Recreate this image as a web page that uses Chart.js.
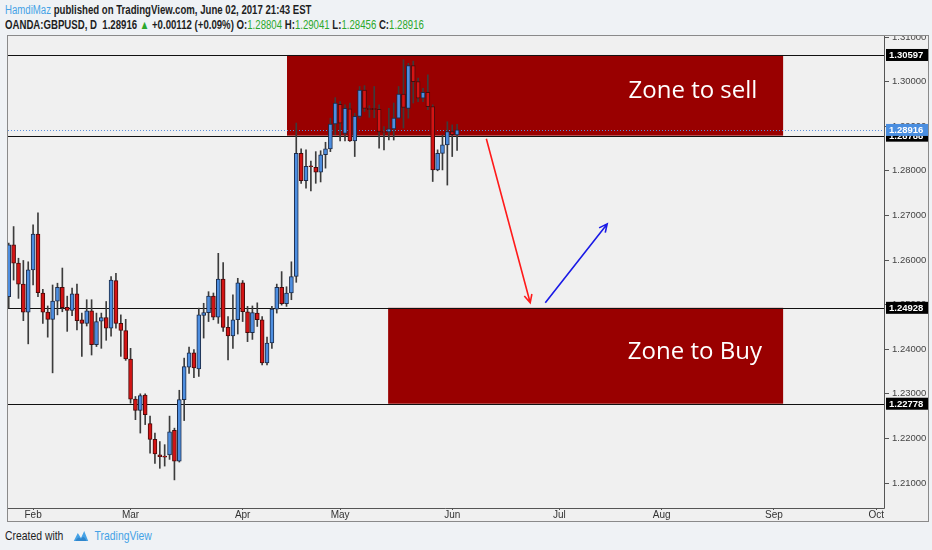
<!DOCTYPE html>
<html>
<head>
<meta charset="utf-8">
<script src="https://cdn.jsdelivr.net/npm/chart.js@4.4.0/dist/chart.umd.min.js"></script>
<style>
  html, body { margin: 0; padding: 0; }
  body {
    width: 932px; height: 550px; position: relative; overflow: hidden;
    background: #eff2f5;
    font-family: "Liberation Sans", sans-serif;
    color: #1e1e1e;
  }
  .hdr { position: absolute; left: 5px; font-size: 12.5px; white-space: nowrap; font-weight: bold;
         transform: scaleX(0.77); transform-origin: 0 0; }
  #hdr1 { top: 3px; }
  #hdr2 { top: 18px; }
  .user { color: #45a2e6; font-weight: normal; }
  .g { color: #2ca82c; font-weight: normal; }
  #wrap { position: absolute; left: 7px; top: 35px; width: 922px; height: 487px; }
  #foot { position: absolute; left: 5px; top: 528px; font-size: 13px; white-space: nowrap; display: flex; align-items: center;
          transform: scaleX(0.8); transform-origin: 0 0; }
  #foot .tv { color: #45a2e6; margin-left: 5px; }
  #foot svg { margin-left: 10px; }
</style>
</head>
<body>
<div class="hdr" id="hdr1"><span class="user">HamdiMaz</span> published on TradingView.com, June 02, 2017 21:43 EST</div>
<div class="hdr" id="hdr2">OANDA:GBPUSD, D&nbsp; 1.28916 <span class="g">▲</span> +0.00112 (+0.09%) O:<span class="g">1.28804</span> H:<span class="g">1.29041</span> L:<span class="g">1.28456</span> C:<span class="g">1.28916</span></div>
<div id="wrap"><canvas id="chart"></canvas></div>
<div id="foot">Created with
  <svg width="24" height="14" viewBox="0 0 20 14"><path d="M1 12 L6 4 L10 9 L14 2 L19 12 Z" fill="#45a2e6"/><path d="M3 12 Q7 6 10 10 Q13 5 17 12 Z" fill="#2f86cc"/></svg>
  <span class="tv">TradingView</span></div>
<script>
// daily candles, index 0 = Jan 25 2017 ... index 92 = Jun 02 2017 (weekdays only)
const opens = [1.2518,1.2634,1.2593,1.2546,1.2483,1.2578,1.2658,1.2526,1.2483,1.2467,
  1.2508,1.2539,1.2494,1.2487,1.2524,1.2466,1.2458,1.2486,1.2410,1.2463,
  1.2471,1.2447,1.2554,1.2458,1.2442,1.2378,1.2288,1.2263,1.2297,1.2233,
  1.2198,1.2163,1.2160,1.2163,1.2218,1.2149,1.2287,1.2360,1.2392,1.2356,
  1.2476,1.2482,1.2519,1.2472,1.2557,1.2449,1.2430,1.2466,1.2549,1.2484,
  1.2437,1.2481,1.2466,1.2369,1.2414,1.2490,1.2539,1.2502,1.2526,1.2563,
  1.2839,1.2778,1.2811,1.2808,1.2797,1.2836,1.2849,1.2905,1.2949,1.2884,
  1.2939,1.2867,1.2922,1.2981,1.2940,1.2940,1.2938,1.2888,1.2887,1.2894,
  1.2918,1.2972,1.2940,1.3036,1.3000,1.2963,1.2976,1.2944,1.2802,1.2839,
  1.2858,1.2888,1.28804];
const highs = [1.2638,1.2675,1.2604,1.2599,1.2596,1.2679,1.2706,1.2534,1.2497,1.2544,
  1.2548,1.2582,1.2519,1.2537,1.2546,1.2481,1.2511,1.2511,1.2481,1.2481,
  1.2507,1.2563,1.2570,1.2477,1.2467,1.2402,1.2294,1.2300,1.2300,1.2250,
  1.2212,1.2193,1.2186,1.2250,1.2223,1.2308,1.2380,1.2405,1.2399,1.2492,
  1.2503,1.2529,1.2526,1.2615,1.2594,1.2473,1.2522,1.2559,1.2554,1.2496,
  1.2497,1.2504,1.2473,1.2427,1.2496,1.2546,1.2574,1.2540,1.2596,1.2907,
  1.2849,1.2847,1.2822,1.2843,1.2845,1.2864,1.2918,1.2964,1.2955,1.2948,
  1.2952,1.2929,1.2989,1.2991,1.2946,1.2989,1.2948,1.2899,1.2940,1.2952,
  1.2989,1.3049,1.3041,1.3046,1.3008,1.2985,1.3015,1.2948,1.2847,1.2880,
  1.2910,1.2903,1.29041];
const lows = [1.2492,1.2555,1.2514,1.2464,1.2412,1.2544,1.2518,1.2458,1.2427,1.2347,
  1.2477,1.2484,1.2440,1.2475,1.2443,1.2384,1.2452,1.2387,1.2406,1.2402,
  1.2420,1.2429,1.2447,1.2384,1.2375,1.2279,1.2242,1.2212,1.2231,1.2167,
  1.2144,1.2133,1.2138,1.2153,1.2107,1.2147,1.2240,1.2346,1.2336,1.2339,
  1.2425,1.2462,1.2466,1.2458,1.2440,1.2376,1.2402,1.2434,1.2462,1.2417,
  1.2422,1.2451,1.2365,1.2365,1.2402,1.2481,1.2499,1.2496,1.2511,1.2550,
  1.2772,1.2761,1.2755,1.2772,1.2775,1.2806,1.2843,1.2881,1.2867,1.2867,
  1.2866,1.2832,1.2918,1.2933,1.2920,1.2919,1.2851,1.2847,1.2869,1.2869,
  1.2918,1.2896,1.2918,1.2952,1.2955,1.2955,1.2937,1.2776,1.2800,1.2802,
  1.2768,1.2832,1.28456];
const closes = [1.2634,1.2593,1.2546,1.2483,1.2578,1.2658,1.2527,1.2483,1.2467,1.2508,
  1.2539,1.2493,1.2487,1.2524,1.2464,1.2458,1.2486,1.2410,1.2462,1.2471,
  1.2447,1.2555,1.2458,1.2442,1.2378,1.2288,1.2263,1.2296,1.2253,1.2198,
  1.2165,1.2159,1.2158,1.2215,1.2149,1.2287,1.2361,1.2392,1.2358,1.2477,
  1.2482,1.2519,1.2472,1.2557,1.2449,1.2430,1.2466,1.2549,1.2484,1.2437,
  1.2482,1.2466,1.2369,1.2414,1.2490,1.2539,1.2502,1.2526,1.2563,1.2839,
  1.2778,1.2810,1.2809,1.2797,1.2836,1.2849,1.2905,1.2952,1.2907,1.2940,
  1.2867,1.2922,1.2981,1.2940,1.2937,1.2937,1.2887,1.2886,1.2894,1.2918,
  1.2972,1.2942,1.3036,1.3000,1.2963,1.2976,1.2944,1.2802,1.2839,1.2858,
  1.2888,1.2881,1.28916];

// time axis: bar index of first trading day of each month
const monthIdx = [5, 25, 48, 68, 91, 113, 134, 157, 178];
const monthLabels = ['Feb', 'Mar', 'Apr', 'May', 'Jun', 'Jul', 'Aug', 'Sep', 'Oct'];
const priceTicks = [1.21, 1.22, 1.23, 1.24, 1.25, 1.26, 1.27, 1.28, 1.29, 1.30, 1.31];

// drawn levels and zones
const levels = [1.30597, 1.28788, 1.24928, 1.22778];
const lastPrice = 1.28916;
const zoneNames = ['Zone to sell', 'Zone to Buy'];
const zoneFrom = [57.1, 77.85];
const zoneTo = [158.9, 158.9];
const zoneTop = [1.30597, 1.24928];
const zoneBottom = [1.28788, 1.22778];
const zoneTextX = [140.4, 140.8];
const arrowFrom = [[98.0, 1.2872], [110.1, 1.2504]];
const arrowTo = [[107.0, 1.2504], [122.8, 1.2681]];
const arrowColors = ['#ff1a1a', '#1a1ae6'];

const upFill = '#4d8ee0', upLine = '#1c2c4a';
const downFill = '#d41414', downLine = '#4a0a0a';
const zoneColor = '#990000';

const idx = opens.map((_, i) => i);

function arrow(ctx, x0, y0, x1, y1, color) {
  const ang = Math.atan2(y1 - y0, x1 - x0), hl = 9;
  ctx.strokeStyle = color;
  ctx.lineWidth = 1.6;
  ctx.beginPath();
  ctx.moveTo(x0, y0); ctx.lineTo(x1, y1);
  ctx.moveTo(x1 - hl * Math.cos(ang - 0.45), y1 - hl * Math.sin(ang - 0.45));
  ctx.lineTo(x1, y1);
  ctx.lineTo(x1 - hl * Math.cos(ang + 0.45), y1 - hl * Math.sin(ang + 0.45));
  ctx.stroke();
}

function priceBox(ctx, chart, v, bg) {
  const a = chart.chartArea, y = chart.scales.y.getPixelForValue(v);
  ctx.fillStyle = bg;
  ctx.fillRect(a.right + 2, y - 6, chart.width - a.right - 3, 12);
  ctx.fillStyle = '#ffffff';
  ctx.font = 'bold 9.5px "Liberation Sans", sans-serif';
  ctx.textAlign = 'left';
  ctx.textBaseline = 'middle';
  ctx.fillText(v.toFixed(5), a.right + 5, y + 0.5);
}

const drawings = {
  id: 'drawings',
  beforeDraw(chart) {
    const ctx = chart.ctx;
    ctx.save();
    ctx.fillStyle = '#f0f0f0';
    ctx.fillRect(0, 0, chart.width, chart.height);
    ctx.restore();
  },
  beforeDatasetsDraw(chart) {
    const { ctx, chartArea: a, scales: { x, y } } = chart;
    ctx.save();
    ctx.beginPath(); ctx.rect(a.left, a.top, a.width, a.height); ctx.clip();
    zoneNames.forEach((n, i) => {
      const x0 = x.getPixelForValue(zoneFrom[i]), x1 = x.getPixelForValue(zoneTo[i]);
      const y0 = y.getPixelForValue(zoneTop[i]), y1 = y.getPixelForValue(zoneBottom[i]);
      ctx.fillStyle = zoneColor;
      ctx.fillRect(x0, y0, x1 - x0, y1 - y0);
    });
    ctx.strokeStyle = '#111111';
    ctx.lineWidth = 1;
    levels.forEach(v => {
      const py = Math.round(y.getPixelForValue(v)) + 0.5;
      ctx.beginPath(); ctx.moveTo(a.left, py); ctx.lineTo(a.right, py); ctx.stroke();
    });
    const ly = Math.round(y.getPixelForValue(lastPrice)) + 0.5;
    ctx.strokeStyle = '#5b8fdc';
    ctx.setLineDash([1, 2]);
    ctx.beginPath(); ctx.moveTo(a.left, ly); ctx.lineTo(a.right, ly); ctx.stroke();
    ctx.restore();
  },
  afterDatasetsDraw(chart) {
    const { ctx, chartArea: a, scales: { x, y } } = chart;
    ctx.save();
    ctx.beginPath(); ctx.rect(a.left, a.top, a.width, a.height); ctx.clip();
    ctx.fillStyle = '#ffffff';
    ctx.font = '24px "Open Sans", sans-serif';
    ctx.textAlign = 'center';
    ctx.textBaseline = 'middle';
    zoneNames.forEach((n, i) => {
      const py = y.getPixelForValue((zoneTop[i] + zoneBottom[i]) / 2) - 4;
      ctx.fillText(n, x.getPixelForValue(zoneTextX[i]), py);
    });
    arrowFrom.forEach((p, i) => {
      arrow(ctx, x.getPixelForValue(p[0]), y.getPixelForValue(p[1]),
        x.getPixelForValue(arrowTo[i][0]), y.getPixelForValue(arrowTo[i][1]), arrowColors[i]);
    });
    ctx.restore();
  },
  afterDraw(chart) {
    const { ctx, chartArea: a } = chart;
    ctx.save();
    ctx.strokeStyle = '#555555';
    ctx.lineWidth = 1;
    ctx.beginPath();
    ctx.moveTo(a.right + 0.5, 0); ctx.lineTo(a.right + 0.5, a.bottom + 0.5);
    ctx.lineTo(0, a.bottom + 0.5);
    ctx.stroke();
    levels.forEach(v => priceBox(ctx, chart, v, '#000000'));
    priceBox(ctx, chart, lastPrice, '#4a8ee0');
    ctx.strokeStyle = '#8a8a8a';
    ctx.strokeRect(0.5, 0.5, chart.width - 1, chart.height - 1);
    ctx.restore();
  }
};

new Chart(document.getElementById('chart'), {
  type: 'bar',
  data: {
    datasets: [{
      label: 'body',
      data: idx.map(i => ({ x: i, y: [opens[i], closes[i]] })),
      backgroundColor: c => closes[c.dataIndex] >= opens[c.dataIndex] ? upFill : downFill,
      borderColor: c => closes[c.dataIndex] >= opens[c.dataIndex] ? upLine : downLine,
      borderWidth: 1,
      borderSkipped: false,
      barThickness: 4,
      minBarLength: 1,
      grouped: false,
      order: 0
    }, {
      label: 'wick',
      data: idx.map(i => ({ x: i, y: [lows[i], highs[i]] })),
      backgroundColor: '#3c3c3c',
      borderWidth: 0,
      barThickness: 1,
      grouped: false,
      order: 1
    }]
  },
  plugins: [drawings],
  options: {
    responsive: true,
    maintainAspectRatio: false,
    animation: false,
    layout: { padding: { left: 1, right: 1, top: 2, bottom: 1 } },
    plugins: { legend: { display: false }, tooltip: { enabled: false } },
    scales: {
      x: {
        type: 'linear',
        min: -0.15,
        max: 179.6,
        offset: false,
        grid: { drawOnChartArea: false, offset: false, tickLength: 2, color: '#555555' },
        border: { display: false },
        afterBuildTicks: s => { s.ticks = monthIdx.map(v => ({ value: v })); },
        afterFit: s => { s.height = 13; s.paddingLeft = 0; s.paddingRight = 0; },
        ticks: {
          autoSkip: false, maxRotation: 0, padding: -1,
          color: '#333333',
          font: { family: '"Liberation Sans", sans-serif', size: 10 },
          callback: v => monthLabels[monthIdx.indexOf(v)]
        }
      },
      y: {
        position: 'right',
        min: 1.2044,
        max: 1.3100,
        grid: { drawOnChartArea: false, tickLength: 5, color: '#555555' },
        border: { display: false },
        afterBuildTicks: s => { s.ticks = priceTicks.map(v => ({ value: v })); },
        afterFit: s => { s.width = 44; s.paddingTop = 0; s.paddingBottom = 0; },
        ticks: {
          padding: 3,
          color: '#444444',
          font: { family: '"Liberation Sans", sans-serif', size: 9.5 },
          callback: v => v.toFixed(5)
        }
      }
    }
  }
});
</script>
</body>
</html>
